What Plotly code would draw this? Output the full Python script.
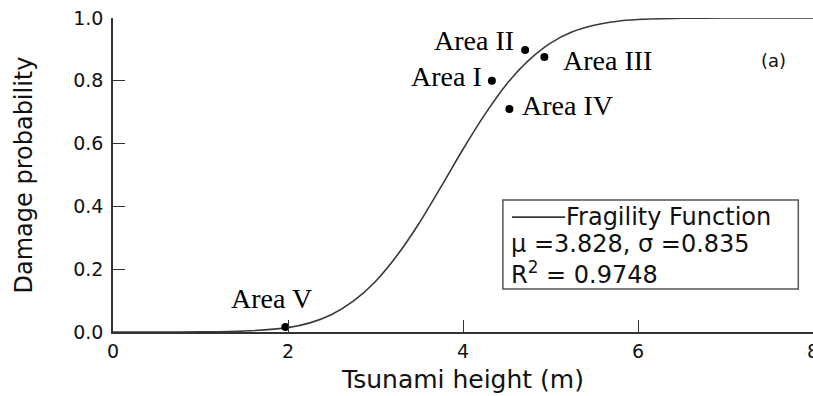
import plotly.graph_objects as go

# Fragility curve
curve_x = [0, 0.5, 1.0, 1.5, 2.0, 2.25, 2.5, 2.75, 3.0, 3.25, 3.5, 3.75, 4.0,
           4.25, 4.5, 4.75, 5.0, 5.25, 5.5, 5.75, 6.0, 6.5, 7.0, 7.5, 8.0]
curve_p = [0.0, 0.0, 0.0003, 0.003, 0.014, 0.029, 0.056, 0.099, 0.161, 0.245,
           0.347, 0.463, 0.582, 0.693, 0.790, 0.865, 0.920, 0.956, 0.977, 0.989,
           0.995, 0.999, 1.0, 1.0, 1.0]

# Observed damage points
area_names = ["Area I", "Area II", "Area III", "Area IV", "Area V"]
area_x = [4.33, 4.71, 4.93, 4.53, 1.97]
area_p = [0.80, 0.898, 0.876, 0.71, 0.016]

x_ticks = [0, 2, 4, 6, 8]
y_ticks = [0.0, 0.2, 0.4, 0.6, 0.8, 1.0]

legend_lines = ["Fragility Function", "\u03bc =3.828, \u03c3 =0.835", "R<sup>2</sup> = 0.9748"]
panel_label = "(a)"

# label placement (anchor, xshift, yshift) per area
label_pos = [("right", -8, 4), ("right", -9, 10), ("left", 17, -4), ("left", 11, 4), ("center", -14, 28)]

fig = go.Figure()
fig.add_trace(go.Scatter(x=curve_x, y=curve_p, mode="lines",
                         line=dict(color="#3a3a3a", width=1.6, shape="spline", smoothing=0.8),
                         name="Fragility Function", showlegend=False))
fig.add_trace(go.Scatter(x=area_x, y=area_p, mode="markers",
                         marker=dict(color="black", size=8),
                         cliponaxis=False, showlegend=False))

for name, xv, yv, (anc, xs, ys) in zip(area_names, area_x, area_p, label_pos):
    fig.add_annotation(x=xv, y=yv, xref="x", yref="y", text=name, showarrow=False,
                       xanchor=anc, yanchor="middle", xshift=xs, yshift=ys,
                       font=dict(family="Liberation Serif", size=28, color="black"))

# legend box
fig.add_shape(type="rect", xref="paper", yref="paper", x0=0.557, x1=0.979, y0=0.137, y1=0.420,
              line=dict(color="#555555", width=1.5), fillcolor="white", layer="below")
fig.add_shape(type="line", xref="paper", yref="paper", x0=0.570, x1=0.646, y0=0.366, y1=0.366,
              line=dict(color="#3a3a3a", width=1.6))
leg_font = dict(family="DejaVu Sans", size=24, color="#111111")
fig.add_annotation(xref="paper", yref="paper", x=0.646, y=0.366, text=legend_lines[0],
                   showarrow=False, xanchor="left", yanchor="middle", font=leg_font, borderpad=0)
fig.add_annotation(xref="paper", yref="paper", x=0.567, y=0.231,
                   text="<br>".join(legend_lines[1:]), align="left",
                   showarrow=False, xanchor="left", yanchor="middle", font=leg_font, borderpad=0)
fig.add_annotation(xref="paper", yref="paper", x=0.944, y=0.866, text=panel_label,
                   showarrow=False, xanchor="center", yanchor="middle",
                   font=dict(family="DejaVu Sans", size=18, color="#111111"))

fig.update_layout(
    width=813, height=396,
    margin=dict(l=113, r=0, t=18, b=64),
    plot_bgcolor="white", paper_bgcolor="white",
    font=dict(family="DejaVu Sans", color="#111111"),
    xaxis=dict(range=[0, 8], tickvals=x_ticks, ticktext=[str(v) for v in x_ticks],
               automargin=False,
               showgrid=False, zeroline=False, showline=True, linecolor="#333333", linewidth=1.6,
               ticks="inside", ticklen=12, tickcolor="#333333", tickwidth=1.3,
               tickfont=dict(size=19, color="#111111"), ticklabelstandoff=1,
               ticklabeloverflow="allow",
               title=dict(text="Tsunami height (m)", font=dict(size=25, color="#111111"), standoff=10)),
    yaxis=dict(range=[0, 1], tickvals=y_ticks, tickformat=".1f",
               automargin=False,
               showgrid=False, zeroline=False, showline=True, linecolor="#333333", linewidth=1.6,
               ticks="inside", ticklen=12, tickcolor="#333333", tickwidth=1.3,
               tickfont=dict(size=19, color="#111111"), ticklabelstandoff=4,
               title=dict(text="Damage probability", font=dict(size=24, color="#111111"), standoff=34)),
)

fig.write_html("out.html")
